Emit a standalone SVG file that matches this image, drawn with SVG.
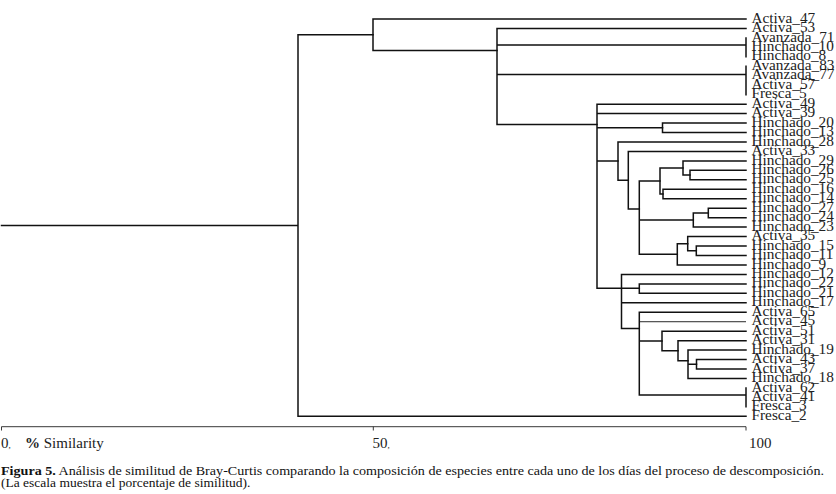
<svg xmlns="http://www.w3.org/2000/svg" width="836" height="494" viewBox="0 0 836 494">
<style>
.t{fill:none;stroke:#111;stroke-width:1.5;stroke-linecap:square}
.thin{fill:none;stroke:#111;stroke-width:0.9}
.ax{fill:none;stroke:#222;stroke-width:0.9}
.lb{font-family:"Liberation Serif","Times New Roman",serif;font-size:15.3px;fill:#222}
.al{font-family:"Liberation Serif","Times New Roman",serif;font-size:15px;fill:#222}
.cp{font-family:"Liberation Serif","Times New Roman",serif;font-size:13.5px;fill:#111}
</style>
<rect width="836" height="494" fill="#fff"/>
<g id="connectors">
<path class="t" d="M1.5 225.5H298 M298 34.7V416.32 M298 34.7H373 M298 416.32H746"/>
<path class="t" d="M373 19V50.4 M373 19H746 M373 50.4H497"/>
<path class="t" d="M497 28.46V124.5 M497 28.46H746 M497 45H746 M746 37.92V56.84 M497 74.6H746 M746 66.3V94.68 M497 124.5H597"/>
<path class="t" d="M597 104.14V288.3 M597 104.14H746 M597 113.6H746 M597 127.8H662.5 M597 161.1H618 M597 288.3H639.3"/>
<path class="t" d="M662.5 123.06V132.52 M662.5 123.06H746 M662.5 132.52H746"/>
<path class="t" d="M618 141.98V180.3 M618 141.98H746 M618 180.3H628.3"/>
<path class="t" d="M628.3 151.44V209.1 M628.3 151.44H746 M628.3 209.1H639.3"/>
<path class="t" d="M639.3 181V254.3 M639.3 181H660 M639.3 220H693.3 M639.3 254.3H677.3"/>
<path class="t" d="M660 168V194 M660 168H683 M660 194H663"/>
<path class="t" d="M683 160.9V175.1 M683 160.9H746 M683 175.1H690"/>
<path class="t" d="M690 170.36V179.82 M690 170.36H746 M690 179.82H746"/>
<path class="t" d="M663 189.28V198.74 M663 189.28H746 M663 198.74H746"/>
<path class="t" d="M693.3 212.9V227.12 M693.3 212.9H708.3 M693.3 227.12H746"/>
<path class="t" d="M708.3 208.2V217.66 M708.3 208.2H746 M708.3 217.66H746"/>
<path class="t" d="M677.3 243.7V264.96 M677.3 243.7H687.7 M677.3 264.96H746"/>
<path class="t" d="M687.7 236.58V250.8 M687.7 236.58H746 M687.7 250.8H696.3"/>
<path class="t" d="M696.3 246.04V255.5 M696.3 246.04H746 M696.3 255.5H746"/>
<path class="t" d="M621.5 274.42V328.5 M621.5 274.42H746 M621.5 302.8H746 M621.5 328.5H639.3"/>
<path class="t" d="M639.3 283.88V293.34 M639.3 283.88H746 M639.3 293.34H746"/>
<path class="t" d="M639.3 312.26V395 M639.3 312.26H746 M639.3 340.9H662 M639.3 395H746 M746 387.94V406.86"/>
<path class="thin" d="M639.3 321.72H746"/>
<path class="t" d="M662 331.18V350.7 M662 331.18H746 M662 350.7H678"/>
<path class="t" d="M678 340.64V360.75 M678 340.64H746 M678 360.75H688"/>
<path class="t" d="M688 350.1V378.48 M688 350.1H746 M688 364.3H696.5 M688 378.48H746"/>
<path class="t" d="M696.5 359.56V369.02 M696.5 359.56H746 M696.5 369.02H746"/>
</g>
<g id="axis">
<path class="ax" d="M1.5 426.7H746 M1.5 426.7V430.5 M373.3 426.7V430.5 M746 426.7V430.5"/>
<text class="al" x="1" y="448">0<tspan font-size="9">,</tspan></text>
<text class="al" x="25" y="448"><tspan font-weight="bold">%</tspan> Similarity</text>
<text class="al" x="372.5" y="448">50<tspan font-size="9">,</tspan></text>
<text class="al" x="749" y="448">100</text>
</g>
<g id="leaves" class="lb">
<g id="n1"><text x="751.5" y="22.6">Activa_47</text></g>
<g id="n2"><text x="751.5" y="32.06">Activa_53</text></g>
<g id="n3"><text x="751.5" y="41.52">Avanzada_71</text></g>
<g id="n4"><text x="751.5" y="50.98">Hinchado_10</text></g>
<g id="n5"><text x="751.5" y="60.44">Hinchado_8</text></g>
<g id="n6"><text x="751.5" y="69.9">Avanzada_83</text></g>
<g id="n7"><text x="751.5" y="79.36">Avanzada_77</text></g>
<g id="n8"><text x="751.5" y="88.82">Activa_57</text></g>
<g id="n9"><text x="751.5" y="98.28">Fresca_5</text></g>
<g id="n10"><text x="751.5" y="107.74">Activa_49</text></g>
<g id="n11"><text x="751.5" y="117.2">Activa_39</text></g>
<g id="n12"><text x="751.5" y="126.66">Hinchado_20</text></g>
<g id="n13"><text x="751.5" y="136.12">Hinchado_13</text></g>
<g id="n14"><text x="751.5" y="145.58">Hinchado_28</text></g>
<g id="n15"><text x="751.5" y="155.04">Activa_33</text></g>
<g id="n16"><text x="751.5" y="164.5">Hinchado_29</text></g>
<g id="n17"><text x="751.5" y="173.96">Hinchado_26</text></g>
<g id="n18"><text x="751.5" y="183.42">Hinchado_25</text></g>
<g id="n19"><text x="751.5" y="192.88">Hinchado_16</text></g>
<g id="n20"><text x="751.5" y="202.34">Hinchado_14</text></g>
<g id="n21"><text x="751.5" y="211.8">Hinchado_27</text></g>
<g id="n22"><text x="751.5" y="221.26">Hinchado_24</text></g>
<g id="n23"><text x="751.5" y="230.72">Hinchado_23</text></g>
<g id="n24"><text x="751.5" y="240.18">Activa_35</text></g>
<g id="n25"><text x="751.5" y="249.64">Hinchado_15</text></g>
<g id="n26"><text x="751.5" y="259.1">Hinchado_11</text></g>
<g id="n27"><text x="751.5" y="268.56">Hinchado_9</text></g>
<g id="n28"><text x="751.5" y="278.02">Hinchado_12</text></g>
<g id="n29"><text x="751.5" y="287.48">Hinchado_22</text></g>
<g id="n30"><text x="751.5" y="296.94">Hinchado_21</text></g>
<g id="n31"><text x="751.5" y="306.4">Hinchado_17</text></g>
<g id="n32"><text x="751.5" y="315.86">Activa_65</text></g>
<g id="n33"><text x="751.5" y="325.32">Activa_45</text></g>
<g id="n34"><text x="751.5" y="334.78">Activa_51</text></g>
<g id="n35"><text x="751.5" y="344.24">Activa_31</text></g>
<g id="n36"><text x="751.5" y="353.7">Hinchado_19</text></g>
<g id="n37"><text x="751.5" y="363.16">Activa_43</text></g>
<g id="n38"><text x="751.5" y="372.62">Activa_37</text></g>
<g id="n39"><text x="751.5" y="382.08">Hinchado_18</text></g>
<g id="n40"><text x="751.5" y="391.54">Activa_62</text></g>
<g id="n41"><text x="751.5" y="401">Activa_41</text></g>
<g id="n42"><text x="751.5" y="410.46">Fresca_3</text></g>
<g id="n43"><text x="751.5" y="419.92">Fresca_2</text></g>
</g>
<g id="caption">
<text class="cp" x="1" y="474.5" textLength="823" lengthAdjust="spacingAndGlyphs"><tspan font-weight="bold">Figura 5.</tspan> Análisis de similitud de Bray-Curtis comparando la composición de especies entre cada uno de los días del proceso de descomposición.</text>
<text class="cp" x="1" y="486.5">(La escala muestra el porcentaje de similitud).</text>
</g>
</svg>
